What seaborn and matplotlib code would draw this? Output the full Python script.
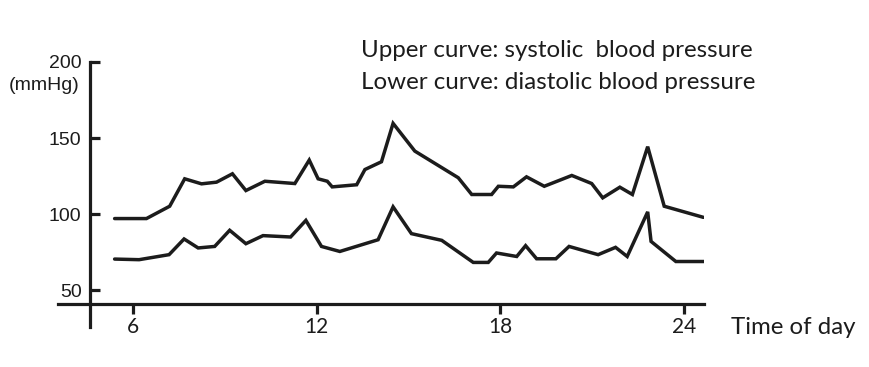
import matplotlib
matplotlib.use("Agg")
import matplotlib.pyplot as plt
import seaborn as sns
import pandas as pd

# ---- data ----
sys_hours = [5.40, 6.44, 7.20, 7.69, 8.24, 8.73, 9.25, 9.69, 10.31, 11.29, 11.76, 12.05,
             12.35, 12.51, 13.31, 13.58, 14.12, 14.50, 15.21, 16.63, 17.07, 17.72, 17.94,
             18.43, 18.86, 19.44, 20.34, 20.99, 21.35, 21.91, 22.32, 22.82, 23.36, 24.64]
sys_values = [97.2, 97.2, 105.3, 123.3, 120.0, 121.1, 126.6, 115.6, 121.7, 120.2, 135.6, 123.3,
              121.7, 118.0, 119.4, 129.4, 134.5, 159.7, 141.5, 124.0, 113.0, 113.0, 118.4,
              118.0, 124.6, 118.4, 125.5, 120.2, 110.8, 117.8, 113.0, 144.4, 105.3, 98.0]
dia_hours = [5.40, 6.20, 7.18, 7.67, 8.13, 8.67, 9.16, 9.69, 10.25, 11.15, 11.65, 12.16,
             12.76, 14.01, 14.50, 15.10, 16.09, 17.12, 17.61, 17.88, 18.54, 18.83, 19.19,
             19.82, 20.25, 21.20, 21.77, 22.15, 22.82, 22.93, 23.74, 24.69]
dia_values = [70.6, 70.2, 73.5, 83.8, 77.9, 78.9, 89.5, 80.7, 86.0, 85.1, 96.0, 78.9,
              75.6, 83.3, 104.9, 87.3, 82.9, 68.4, 68.4, 74.6, 72.3, 79.4, 70.8,
              70.8, 78.9, 73.5, 78.3, 72.3, 101.6, 82.2, 69.0, 69.0]
x_ticks = [6, 12, 18, 24]
y_ticks = [50, 100, 150, 200]
x_label = "Time of day"
y_unit = "(mmHg)"
note_lines = ["Upper curve: systolic  blood pressure",
              "Lower curve: diastolic blood pressure"]

# ---- styling ----
sns.set_style("white")
plt.rcParams["font.family"] = ["Liberation Sans", "DejaVu Sans"]
ink = "#1c1c1c"
humanist = ["Lato", "DejaVu Sans"]

fig = plt.figure(figsize=(8.7, 3.67), dpi=100)
ax = fig.add_axes([58 / 870, 40 / 367, 646 / 870, 265 / 367])

df_sys = pd.DataFrame({"hour": sys_hours, "value": sys_values})
df_dia = pd.DataFrame({"hour": dia_hours, "value": dia_values})
for d in (df_sys, df_dia):
    sns.lineplot(data=d, x="hour", y="value", ax=ax, color=ink, linewidth=2.5,
                 sort=False, estimator=None, solid_joinstyle="miter")

ax.set_xlim(3.55, 24.66)
ax.set_ylim(26, 200)
ax.set_xlabel("")
ax.set_ylabel("")

for s in ("top", "right"):
    ax.spines[s].set_visible(False)
ax.spines["left"].set_position(("data", 4.59))
ax.spines["bottom"].set_position(("data", 41.2))
for s in ("left", "bottom"):
    ax.spines[s].set_linewidth(2.3)
    ax.spines[s].set_color(ink)

ax.set_xticks(x_ticks)
ax.set_xticklabels([str(t) for t in x_ticks], fontfamily=humanist, fontsize=15)
ax.set_yticks(y_ticks)
ax.set_yticklabels([str(t) for t in y_ticks], fontsize=14)
ax.tick_params(axis="y", direction="in", length=7.5, width=2.3, pad=6, color=ink,
               labelcolor=ink, left=True)
ax.tick_params(axis="x", direction="out", length=7.5, width=2.3, pad=2, color=ink,
               labelcolor=ink, bottom=True)
ax.grid(False)

fig.text(80 / 870, 1 - 86 / 367, y_unit, ha="right", va="center", fontsize=14, color=ink)
fig.text(731 / 870, 1 - 327 / 367, x_label, ha="left", va="center",
         fontfamily=humanist, fontsize=17.3, color=ink)
fig.text(361 / 870, 1 - 56.7 / 367, note_lines[0], ha="left", va="baseline",
         fontfamily=humanist, fontsize=17.4, color=ink)
fig.text(361 / 870, 1 - 89.3 / 367, note_lines[1], ha="left", va="baseline",
         fontfamily=humanist, fontsize=17.4, color=ink)

fig.savefig("out.png", dpi=100)
